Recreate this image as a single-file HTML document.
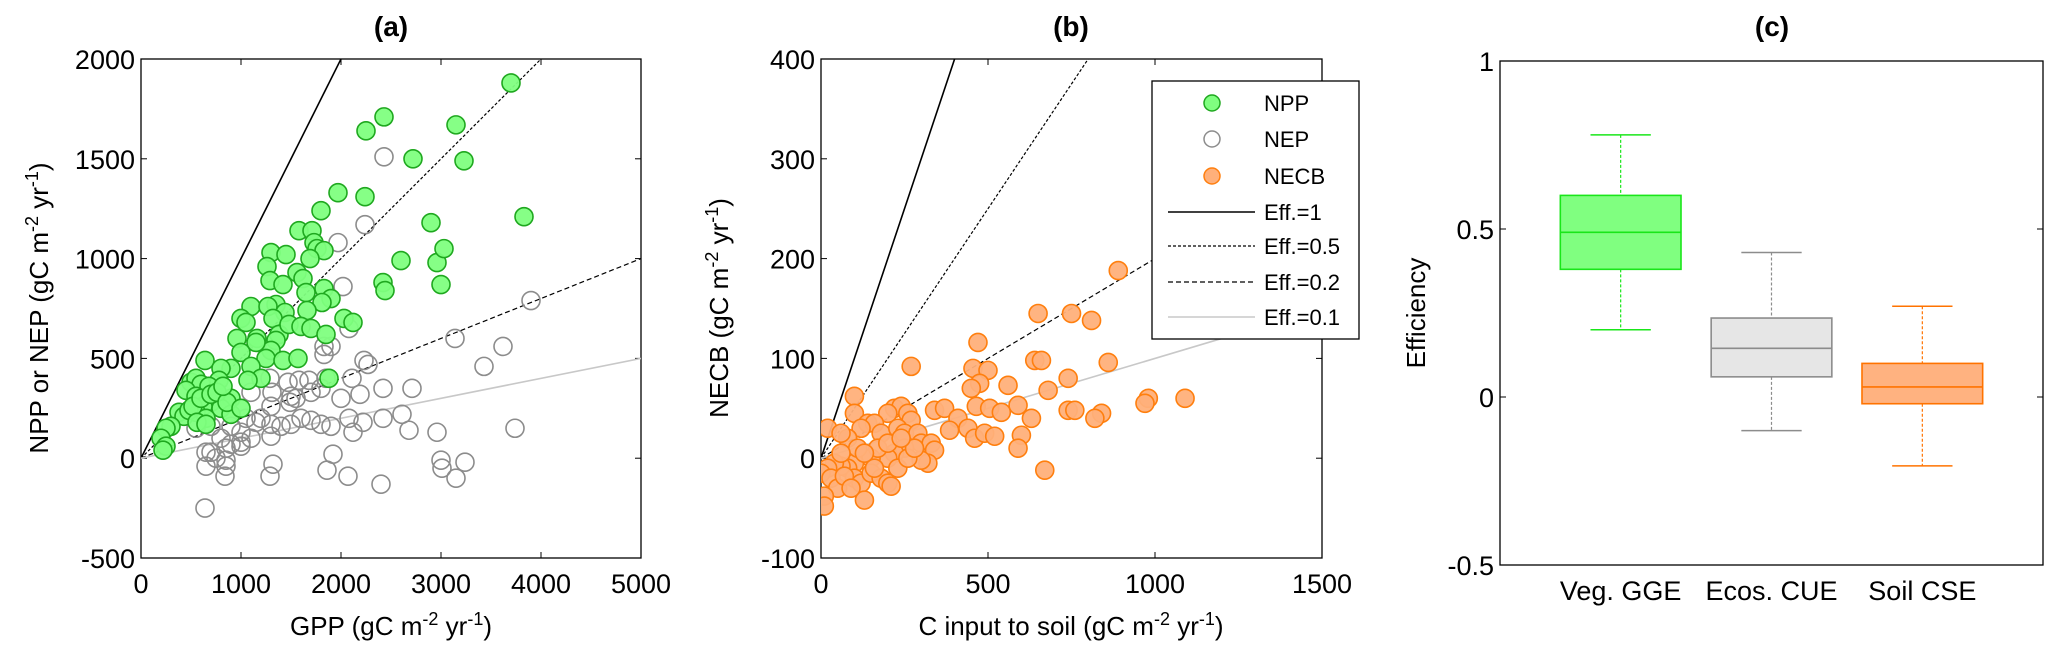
<!DOCTYPE html>
<html><head><meta charset="utf-8">
<style>
html,body{margin:0;padding:0;background:#fff;}
svg{display:block;font-family:"Liberation Sans",Arial,sans-serif;}
</style></head>
<body>
<svg id="fig" width="2067" height="660" viewBox="0 0 2067 660" xmlns="http://www.w3.org/2000/svg">
<defs>
<clipPath id="clipA"><rect x="141" y="59" width="500" height="499"/></clipPath>
<clipPath id="clipB"><rect x="821" y="59" width="501" height="499"/></clipPath>
</defs>
<g id="pa"></g>
<g id="pb"></g>
<g id="pc"></g>
</svg>
<script>
// ---- Panel (a) data: GPP vs NPP / NEP ----
const nppGpp = [3700,2430,2250,3150,2720,3230,1970,2240,1800,3830,2900,1580,1710,1730,1760,1830,1690,1300,1450,1260,2600,2960,3030,1560,1620,1290,1420,2420,2440,3000,1650,1830,1900,1810,1660,1350,1100,1270,1440,1320,1000,1050,2030,2120,1380,1480,1600,1700,1160,1350,960,1000,1300,1250,1420,1570,1850,640,1100,900,800,1200,1880,1070,780,500,550,600,680,450,550,900,700,800,620,380,550,430,650,900,300,250,200,250,220,480,520,600,700,760,860,1000,560,650,820,1150];
const nppVal = [1880,1710,1640,1670,1500,1490,1330,1310,1240,1210,1180,1140,1140,1080,1050,1040,1000,1030,1020,960,990,980,1050,930,900,890,870,880,840,870,830,850,800,780,740,770,760,760,730,700,700,680,700,680,620,670,660,650,600,590,600,530,540,500,490,500,620,490,460,450,450,400,400,390,390,380,400,370,360,340,310,300,280,250,260,230,230,210,200,220,160,150,100,60,40,240,260,300,320,330,280,250,180,170,360,580];
const nepGpp = [2430,2240,1970,2020,3900,3140,3620,1170,1830,1830,1900,2080,2230,2270,3430,1290,1470,1580,1680,1850,2110,1310,1500,1490,1700,1800,2000,2190,2420,2710,2610,2420,2220,2080,2120,2680,2960,3740,1100,1200,1150,1300,1400,1500,1600,1700,1800,1900,1050,1000,1000,1100,1300,900,800,700,750,850,900,1000,650,850,850,650,840,1320,1290,1860,1920,2070,2400,3000,3010,3240,3150,640,1300,1550,700,550];
const nepVal = [1510,1170,1080,860,790,600,560,580,560,520,560,650,490,470,460,400,380,390,390,400,400,330,310,280,330,350,300,320,350,350,220,200,180,200,130,140,130,150,330,200,180,170,160,170,200,190,170,160,200,130,60,100,110,160,100,30,0,50,70,80,30,-10,-40,-40,-90,-30,-90,-60,20,-90,-130,-10,-50,-20,-100,-250,260,300,160,150];
const xTicksA = [0,1000,2000,3000,4000,5000];
const yTicksA = [-500,0,500,1000,1500,2000];
// ---- Panel (b) data: C input to soil vs NECB ----
const cInput = [890,650,750,810,470,640,660,860,270,455,500,475,560,450,680,740,590,100,1090,980,970,340,370,410,465,505,540,740,760,840,820,630,385,440,460,490,520,600,590,670,100,220,240,260,270,200,140,160,120,80,20,60,180,230,250,290,300,330,340,320,300,250,220,200,150,100,80,60,40,20,0,30,50,100,120,150,180,200,210,130,70,10,10,90,160,170,110,130,60,230,260,280,200,240];
const necb = [188,145,145,138,116,98,98,96,92,90,88,75,73,70,68,80,53,62,60,60,55,48,50,40,52,50,46,48,48,45,40,40,28,30,20,25,22,23,10,-12,45,50,52,45,38,45,35,35,30,20,30,25,25,30,25,25,15,15,8,-5,-2,10,5,0,0,-5,-10,-8,-5,-10,-15,-20,-30,-20,-25,-15,-20,-25,-28,-42,-18,-38,-48,-30,-10,10,10,5,5,-10,0,10,15,20];
const xTicksB = [0,500,1000,1500];
const yTicksB = [-100,0,100,200,300,400];
const effSlopes = [1,0.5,0.2,0.1];
const effLabels = ["Eff.=1","Eff.=0.5","Eff.=0.2","Eff.=0.1"];
// ---- Panel (c) data: efficiency boxplots ----
const boxCats = ["Veg. GGE","Ecos. CUE","Soil CSE"];
const boxHi  = [0.78,0.43,0.27];
const boxQ3  = [0.60,0.235,0.10];
const boxMed = [0.49,0.145,0.03];
const boxQ1  = [0.38,0.06,-0.02];
const boxLo  = [0.20,-0.10,-0.205];
const yTicksC = [-0.5,0,0.5,1];

const NS="http://www.w3.org/2000/svg";
function mk(parent,tag,attrs,text){const e=document.createElementNS(NS,tag);for(const k in attrs)e.setAttribute(k,attrs[k]);if(text!==undefined)e.textContent=text;parent.appendChild(e);return e;}
const effStyles=[{stroke:"#000",dash:"",w:1.6},{stroke:"#000",dash:"3,2",w:1.2},{stroke:"#000",dash:"5,3",w:1.2},{stroke:"#c8c8c8",dash:"",w:1.6}];

function axes(g,L,T,W,H,xmin,xmax,ymin,ymax,xt,yt,name){
  const sx=v=>L+(v-xmin)/(xmax-xmin)*W, sy=v=>T+H-(v-ymin)/(ymax-ymin)*H;
  const box=mk(g,"rect",{x:L,y:T,width:W,height:H,fill:"none",stroke:"#000","stroke-width":1.3});
  
  
  if(xt) xt.forEach(v=>{const x=sx(v);
    mk(g,"line",{x1:x,x2:x,y1:T+H,y2:T+H-6,stroke:"#000"});mk(g,"line",{x1:x,x2:x,y1:T,y2:T+6,stroke:"#000"});
    const t=mk(g,"text",{x:x,y:T+H+35,"font-size":27,"text-anchor":"middle"},String(v));
    
    });
  yt.forEach(v=>{const y=sy(v);
    mk(g,"line",{x1:L,x2:L+6,y1:y,y2:y,stroke:"#000"});mk(g,"line",{x1:L+W,x2:L+W-6,y1:y,y2:y,stroke:"#000"});
    const t=mk(g,"text",{x:L-6,y:y+10,"font-size":27,"text-anchor":"end"},String(v));
    
    });
  return {sx,sy};
}
function unitLabel(g,x,y,prefix,rot,name){
  const t=mk(g,"text",{x:x,y:y,"font-size":26,"text-anchor":"middle",transform:rot?`rotate(-90 ${x} ${y})`:""});
  
  
  mk(t,"tspan",{},prefix+" (gC m");mk(t,"tspan",{dy:-10,"font-size":18},"-2");
  mk(t,"tspan",{dy:10},"\u00a0yr");mk(t,"tspan",{dy:-10,"font-size":18},"-1");mk(t,"tspan",{dy:10},")");
}
function title(g,x,s){const t=mk(g,"text",{x:x,y:36,"font-size":28,"font-weight":"bold","text-anchor":"middle"},s);
  }
function effLines(g,sx,sy,xmax,clip){
  const lg=mk(g,"g",{"clip-path":`url(#${clip})`});
  effSlopes.forEach((s,i)=>{const st=effStyles[i];
    const l=mk(lg,"line",{x1:sx(0),y1:sy(0),x2:sx(xmax),y2:sy(xmax*s),stroke:st.stroke,"stroke-width":st.w,"stroke-dasharray":st.dash});
    
    });
}
function dots(g,xs,ys,sx,sy,fill,stroke,name){
  xs.forEach((v,i)=>{const c=mk(g,"circle",{cx:sx(v),cy:sy(ys[i]),r:9,fill:fill,stroke:stroke,"stroke-width":1.6});
    
    });
}
// Panel a
const pa=document.getElementById("pa");
title(pa,391,"(a)");
const A=axes(pa,141,59,500,499,0,5000,-500,2000,xTicksA,yTicksA,"panel-a");
effLines(pa,A.sx,A.sy,5000,"clipA");
const ga=mk(pa,"g",{"clip-path":"url(#clipA)"});
dots(ga,nepGpp,nepVal,A.sx,A.sy,"none","#8c8c8c","nep-point");
dots(ga,nppGpp,nppVal,A.sx,A.sy,"rgba(128,255,128,0.95)","#1fa81f","npp-point");
unitLabel(pa,391,635,"GPP",false,"x-axis-title-a");
unitLabel(pa,48,308,"NPP or NEP",true,"y-axis-title-a");
// Panel b
const pb=document.getElementById("pb");
title(pb,1071,"(b)");
const B=axes(pb,821,59,501,499,0,1500,-100,400,xTicksB,yTicksB,"panel-b");
effLines(pb,B.sx,B.sy,1500,"clipB");
const gb=mk(pb,"g",{"clip-path":"url(#clipB)"});
dots(gb,cInput,necb,B.sx,B.sy,"rgba(255,176,122,0.95)","#ff7f0e","necb-point");
unitLabel(pb,1071,635,"C input to soil",false,"x-axis-title-b");
unitLabel(pb,728,308,"NECB",true,"y-axis-title-b");
// legend
const lg=mk(pb,"g",{});


mk(lg,"rect",{x:1152,y:81,width:207,height:258,fill:"#fff",stroke:"#000","stroke-width":1.3});
const legM=[["NPP","#80ff80","#1fa81f"],["NEP","#fff","#8c8c8c"],["NECB","#ffb07a","#ff7f0e"]];
const rowY=[103,139,176,212,246,282,317];
legM.forEach((m,i)=>{const c=mk(lg,"circle",{cx:1212,cy:rowY[i],r:8,fill:m[1],stroke:m[2],"stroke-width":1.5});
  
  const t=mk(lg,"text",{x:1264,y:rowY[i]+8,"font-size":22},m[0]);
  });
effLabels.forEach((s,i)=>{const st=effStyles[i],y=rowY[i+3];
  mk(lg,"line",{x1:1168,x2:1255,y1:y,y2:y,stroke:st.stroke,"stroke-width":st.w,"stroke-dasharray":st.dash});
  const t=mk(lg,"text",{x:1264,y:y+8,"font-size":22},s);
  });
// Panel c
const pc=document.getElementById("pc");
title(pc,1772,"(c)");
const C=axes(pc,1500,61,543,504,0.2,3.8,-0.5,1,null,yTicksC,"panel-c");
const fills=["#80ff80","#e6e6e6","#ffb280"], strokes=["#19e619","#8c8c8c","#ff7300"];
boxCats.forEach((cat,i)=>{const x=C.sx(i+1),hw=C.sx(i+1.4)-x,cw=C.sx(i+1.2)-x;
  const g=mk(pc,"g",{});
  
  
  mk(g,"line",{x1:x,x2:x,y1:C.sy(boxHi[i]),y2:C.sy(boxQ3[i]),stroke:strokes[i],"stroke-width":1.2,"stroke-dasharray":"3,2"});
  mk(g,"line",{x1:x,x2:x,y1:C.sy(boxQ1[i]),y2:C.sy(boxLo[i]),stroke:strokes[i],"stroke-width":1.2,"stroke-dasharray":"3,2"});
  mk(g,"line",{x1:x-cw,x2:x+cw,y1:C.sy(boxHi[i]),y2:C.sy(boxHi[i]),stroke:strokes[i],"stroke-width":1.5});
  mk(g,"line",{x1:x-cw,x2:x+cw,y1:C.sy(boxLo[i]),y2:C.sy(boxLo[i]),stroke:strokes[i],"stroke-width":1.5});
  mk(g,"rect",{x:x-hw,y:C.sy(boxQ3[i]),width:2*hw,height:C.sy(boxQ1[i])-C.sy(boxQ3[i]),fill:fills[i],stroke:strokes[i],"stroke-width":1.6});
  mk(g,"line",{x1:x-hw,x2:x+hw,y1:C.sy(boxMed[i]),y2:C.sy(boxMed[i]),stroke:strokes[i],"stroke-width":1.6});
  const t=mk(pc,"text",{x:x,y:600,"font-size":27,"text-anchor":"middle"},cat);
  
});
const yc=mk(pc,"text",{x:1425,y:313,"font-size":26,"text-anchor":"middle",transform:"rotate(-90 1425 313)"},"Efficiency");


</script>
</body></html>
